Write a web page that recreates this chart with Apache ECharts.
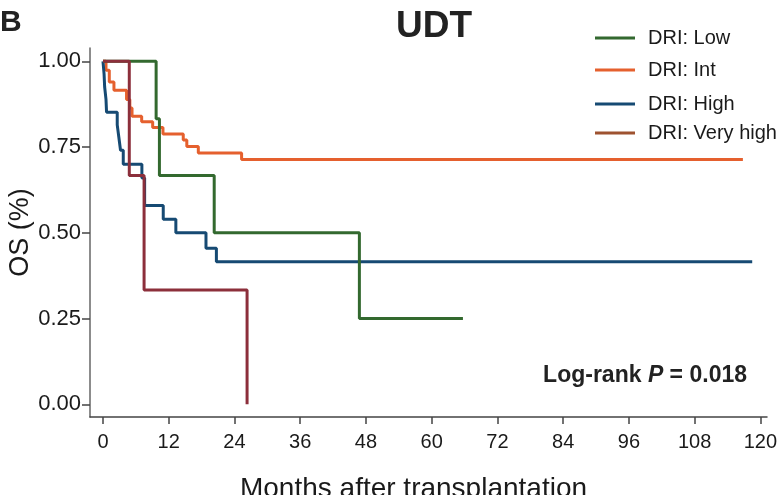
<!DOCTYPE html>
<html>
<head>
<meta charset="utf-8">
<script src="https://cdn.jsdelivr.net/npm/echarts@6/dist/echarts.min.js"></script>
<style>
html,body{margin:0;padding:0;background:#fff;}
#chart{width:779px;height:495px;}
</style>
</head>
<body>
<div id="chart"></div>
<script>
// Kaplan-Meier step data: [months, survival]
const lowData = [[0,1],[9.7,0.833],[10.3,0.667],[20.3,0.5],[46.8,0.25],[65.7,0.25]];
const intData = [[0,1],[0.55,0.974],[1.15,0.94],[2.0,0.916],[4.3,0.889],[4.9,0.864],[5.3,0.840],[7.06,0.824],[9.07,0.807],[10.95,0.788],[14.65,0.771],[15.3,0.752],[17.4,0.733],[25.3,0.714],[116.8,0.714]];
const highData = [[0,1],[0.2,0.963],[0.3,0.926],[0.55,0.889],[0.65,0.852],[2.6,0.815],[2.9,0.778],[3.2,0.741],[3.7,0.70],[7.1,0.66],[7.6,0.58],[11.0,0.54],[13.3,0.50],[18.8,0.455],[20.7,0.416],[118.5,0.416]];
const veryHighData = [[0,1],[4.8,0.667],[7.5,0.333],[26.3,0]];

const seriesNames = ['DRI: Low','DRI: Int','DRI: High','DRI: Very high'];
const xTicks = [0,12,24,36,48,60,72,84,96,108,120];
const yTicks = [0,0.25,0.5,0.75,1];

const FONT = '"Liberation Sans", Arial, Helvetica, sans-serif';
const colors = ['#33692f','#e5602e','#164a73','#8c2f3b'];
const legendColors = ['#33692f','#e5602e','#164a73','#9e5230'];
const legendTops = [23, 55, 89, 118];
const zOrder = [8, 6, 7, 9];

const chart = echarts.init(document.getElementById('chart'));

const legends = seriesNames.map((n, i) => ({
  left: 590,
  top: legendTops[i],
  orient: 'vertical',
  icon: 'rect',
  itemWidth: 40,
  itemHeight: 3,
  selectedMode: false,
  data: [{name: n, itemStyle: {color: legendColors[i]}}],
  textStyle: {fontFamily: FONT, fontSize: 20, color: '#1a1a1a', padding: [0,0,0,8]}
}));

const dataSets = [lowData, intData, highData, veryHighData];

chart.setOption({
  animation: false,
  backgroundColor: '#fff',
  title: {
    text: 'UDT',
    left: 391,
    top: 3,
    textStyle: {fontFamily: FONT, fontSize: 37, fontWeight: 'bold', color: '#222'}
  },
  legend: legends,
  grid: {left: 90, right: 12, top: 48, bottom: 78, containLabel: false, outerBoundsMode: 'none'},
  xAxis: {
    type: 'value',
    min: -2.37,
    max: 121.2,
    name: 'Months after transplantation',
    nameLocation: 'middle',
    nameGap: 58,
    nameMoveOverlap: false,
    nameTextStyle: {fontFamily: FONT, fontSize: 28, color: '#1a1a1a', padding: [0, 30, 0, 0]},
    axisLine: {show: true, onZero: false, lineStyle: {color: '#444', width: 1.5}},
    axisTick: {show: true, length: 7, customValues: xTicks, lineStyle: {color: '#444', width: 1.5}},
    axisLabel: {customValues: xTicks, fontFamily: FONT, fontSize: 20, color: '#1a1a1a', margin: 15},
    splitLine: {show: false}
  },
  yAxis: {
    type: 'value',
    min: -0.037,
    max: 1.039,
    name: 'OS (%)',
    nameLocation: 'middle',
    nameGap: 56,
    nameMoveOverlap: false,
    nameTextStyle: {fontFamily: FONT, fontSize: 27, color: '#1a1a1a'},
    axisLine: {show: true, onZero: false, lineStyle: {color: '#666', width: 1.5}},
    axisTick: {show: true, length: 8, customValues: yTicks, lineStyle: {color: '#444', width: 1.5}},
    axisLabel: {customValues: yTicks, fontFamily: FONT, fontSize: 22, color: '#1a1a1a', margin: 9,
      formatter: v => v.toFixed(2)},
    splitLine: {show: false}
  },
  graphic: [
    {type: 'text', left: 0, top: 8, style: {text: 'B', font: 'bold 30px ' + FONT, fill: '#222'}},
    {type: 'text', right: 32, top: 364, style: {
      text: '{a|Log-rank }{b|P}{a| = 0.018}',
      rich: {
        a: {font: 'bold 23px ' + FONT, fill: '#222'},
        b: {font: 'italic bold 23px ' + FONT, fill: '#222'}
      }
    }}
  ],
  series: dataSets.map((d, i) => ({
    name: seriesNames[i],
    type: 'line',
    step: 'end',
    data: d,
    showSymbol: false,
    symbol: 'none',
    lineStyle: {color: colors[i], width: 3},
    itemStyle: {color: colors[i]},
    z: zOrder[i]
  }))
});
</script>
</body>
</html>
